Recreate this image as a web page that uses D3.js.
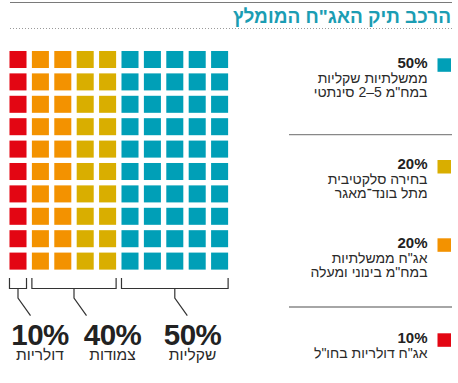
<!DOCTYPE html>
<html lang="he">
<head>
<meta charset="utf-8">
<script src="https://cdn.jsdelivr.net/npm/d3@7"></script>
<style>
  html, body { margin: 0; padding: 0; background: #fff; }
  svg { display: block; font-family: "Liberation Sans", Arial, sans-serif; }
</style>
</head>
<body>
<svg id="chart" width="458" height="383"></svg>
<script>
// ---- data ----
const title = "הרכב תיק האג\"ח המומלץ";
// waffle segments, left to right
const segmentKeys = ["dollar", "cpiGov", "selective", "shekel"];
const segmentValues = [10, 20, 20, 50];
// legend (top to bottom)
const legendKeys = ["shekel", "selective", "cpiGov", "dollar"];
const legendPct = ["50%", "20%", "20%", "10%"];
const legendLines = [
  ["ממשלתיות שקליות", "במח\"מ 5–2 סינתטי"],
  ["בחירה סלקטיבית", "מתל בונד־מאגר"],
  ["אג\"ח ממשלתיות", "במח\"מ בינוני ומעלה"],
  ["אג\"ח דולריות בחו\"ל"]
];
// bottom groups
const groupValues = [10, 40, 50];
const groupPct = ["10%", "40%", "50%"];
const groupNames = ["דולריות", "צמודות", "שקליות"];

// ---- styles / layout ----
const colors = d3.scaleOrdinal()
  .domain(["dollar", "cpiGov", "selective", "shekel"])
  .range(["#e30613", "#f39200", "#d9ae00", "#009fb7"]);
const teal = "#1b9db3";
const textColor = "#2a2a2a";
const groupLabelX = [40, 112.5, 192.5];

const svg = d3.select("#chart");

// header
svg.append("line").attr("x1", 10).attr("x2", 452).attr("y1", 2.5).attr("y2", 2.5)
  .attr("stroke", "#7a7a7a").attr("stroke-width", 1.2);
svg.append("text").attr("x", 451).attr("y", 23)
  .attr("text-anchor", "start").attr("direction", "rtl")
  .attr("font-size", 19).attr("font-weight", "bold").attr("fill", teal)
  .text(title);
svg.append("line").attr("x1", 10).attr("x2", 452).attr("y1", 28.5).attr("y2", 28.5)
  .attr("stroke", "#9a9a9a").attr("stroke-width", 1).attr("stroke-dasharray", "1,2");

// ---- waffle ----
const nCols = 10, nRows = 10;
const x = d3.scaleBand().domain(d3.range(nCols)).range([6.8, 230.8])
  .paddingInner(0.24).paddingOuter(0.12);
const y = d3.scaleBand().domain(d3.range(nRows)).range([48.3, 272.3])
  .paddingInner(0.24).paddingOuter(0.12);

const cells = [];
segmentKeys.forEach((k, si) => {
  for (let j = 0; j < segmentValues[si]; j++) cells.push(k);
});
svg.append("g").selectAll("rect").data(cells).join("rect")
  .attr("x", (d, i) => x(Math.floor(i / nRows)))
  .attr("y", (d, i) => y(i % nRows))
  .attr("width", x.bandwidth())
  .attr("height", y.bandwidth())
  .attr("fill", d => colors(d));

// ---- brackets ----
const bTop = 278, bBot = 288.5, tickEnd = 298, diagEnd = 315.7;
let cum = 0;
const gB = svg.append("g").attr("fill", "none").attr("stroke", "#333").attr("stroke-width", 1.2);
groupValues.forEach((v, gi) => {
  const c0 = cum / nRows, c1 = (cum + v) / nRows - 1;
  cum += v;
  const xa = x(c0), xb = x(c1) + x.bandwidth();
  const xm = (xa + xb) / 2;
  gB.append("path").attr("d",
    `M${xa},${bTop}V${bBot}H${xb}V${bTop}M${xm},${bBot}V${tickEnd}L${xm + 12.5},${diagEnd}`);
  const cx = groupLabelX[gi];
  const t = svg.append("text").attr("text-anchor", "middle");
  t.append("tspan").attr("x", cx).attr("y", 345)
    .attr("font-size", 29.5).attr("font-weight", "bold").attr("fill", "#222")
    .attr("letter-spacing", -0.5).text(groupPct[gi]);
  t.append("tspan").attr("x", cx).attr("y", 360)
    .attr("direction", "rtl").attr("unicode-bidi", "embed")
    .attr("font-size", 15.5).attr("fill", textColor).text(groupNames[gi]);
});

// ---- legend ----
const legendTop = [58.3, 160, 238.3, 333.3];
const sq = 13.5;
legendKeys.forEach((k, i) => {
  const t = legendTop[i];
  svg.append("rect").attr("x", 437.5).attr("y", t).attr("width", sq).attr("height", sq)
    .attr("fill", colors(k));
  svg.append("text").attr("x", 427.5).attr("y", t + 9.4).attr("text-anchor", "end")
    .attr("font-size", 15).attr("font-weight", "bold").attr("fill", "#222")
    .text(legendPct[i]);
  legendLines[i].forEach((ln, li) => {
    svg.append("text").attr("x", 427.5).attr("y", t + 24.4 + li * 14)
      .attr("text-anchor", "start").attr("direction", "rtl")
      .attr("font-size", 14).attr("fill", textColor).text(ln);
  });
});
// separators
[134.7, 307].forEach(yy => {
  svg.append("line").attr("x1", 289).attr("x2", 452).attr("y1", yy).attr("y2", yy)
    .attr("stroke", "#888").attr("stroke-width", 1.3);
});
</script>
</body>
</html>
